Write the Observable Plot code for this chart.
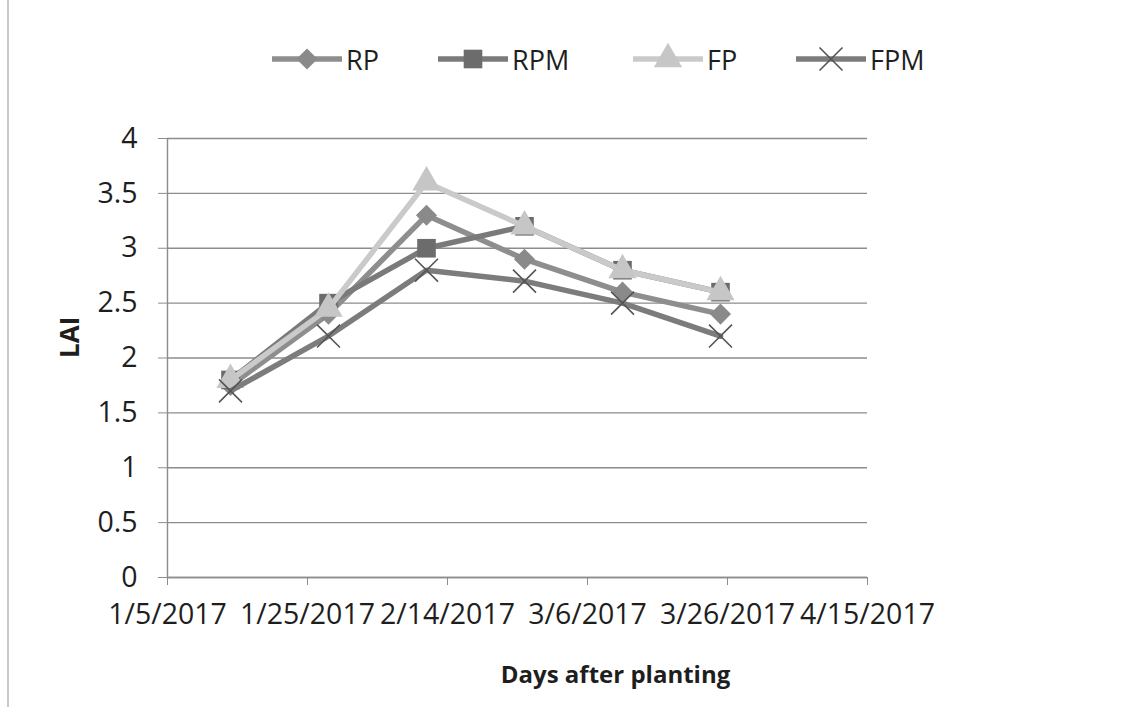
<!DOCTYPE html>
<html><head><meta charset="utf-8">
<script src="https://cdn.jsdelivr.net/npm/d3@7"></script>
<script src="https://cdn.jsdelivr.net/npm/@observablehq/plot@0.6"></script>
<style>
body{margin:0;background:#fff;font-family:"Open Sans",sans-serif;}
#wrap{position:relative;width:1138px;height:707px;overflow:hidden;background:#fff;}
#legend{position:absolute;top:0;left:0;width:1138px;height:100px;}
#chart{position:absolute;top:100px;left:0;}
#edge{position:absolute;left:7px;top:0;width:2px;height:707px;background:#c8c8c8;}
.item{position:absolute;top:41px;height:36px;display:flex;align-items:center;font-size:27px;color:#1e1e1e;}
.item svg{margin-right:4px;}
</style></head><body>
<div id="wrap"><div id="edge"></div><div id="legend"></div><div id="chart"></div></div>
<script>
// ---- data ----
const dates = ["2017-01-14","2017-01-28","2017-02-11","2017-02-25","2017-03-11","2017-03-25"];
const seriesNames = ["RP","RPM","FP","FPM"];
const RP  = [1.75, 2.4, 3.3, 2.9, 2.6, 2.4];
const RPM = [1.8, 2.5, 3.0, 3.2, 2.8, 2.6];
const FP  = [1.8, 2.45, 3.6, 3.2, 2.8, 2.6];
const FPM = [1.7, 2.2, 2.8, 2.7, 2.5, 2.2];
const xTickDates = ["2017-01-05","2017-01-25","2017-02-14","2017-03-06","2017-03-26","2017-04-15"];
const yTicks = [0, 0.5, 1, 1.5, 2, 2.5, 3, 3.5, 4];
const xTitle = "Days after planting";
const yTitle = "LAI";

// ---- styles ----
const styles = {
  RP:  {line:"#8e8e8e", mark:"#8a8a8a", symbol:"diamond2", r:9.5, stroke:false},
  RPM: {line:"#7a7a7a", mark:"#6c6c6c", symbol:"square", r:10.5, stroke:false},
  FP:  {line:"#cacaca", mark:"#c6c6c6", symbol:"triangle", r:10.5, stroke:false},
  FPM: {line:"#7c7c7c", mark:"#555555", symbol:"times", r:10.5, stroke:true}
};
const values = {RP, RPM, FP, FPM};
const parse = s => new Date(s + "T00:00:00Z");
const table = seriesNames.flatMap(s => dates.map((d, i) => ({series: s, date: parse(d), value: values[s][i]})));

const marks = [
  Plot.gridY(yTicks, {stroke:"#8c8c8c", strokeOpacity:1, strokeWidth:1.4}),
  Plot.axisY(yTicks, {tickSize:9, tickPadding:21, stroke:"#8c8c8c", color:"#1e1e1e", tickFormat:d=>String(d), label:null}),
  Plot.ruleX([parse(xTickDates[0])], {stroke:"#8c8c8c", strokeWidth:1.4}),
  Plot.ruleY([0], {stroke:"#8c8c8c", strokeWidth:1.4}),
  Plot.axisX(xTickDates.map(parse), {tickSize:8, tickPadding:18, stroke:"#8c8c8c", color:"#1e1e1e",
    tickFormat: d => `${d.getUTCMonth()+1}/${d.getUTCDate()}/${d.getUTCFullYear()}`, label:null}),
];
for (const s of seriesNames) {
  const st = styles[s];
  const data = table.filter(d => d.series === s);
  marks.push(Plot.line(data, {x:"date", y:"value", stroke:st.line, strokeWidth:5.5, curve:"linear"}));
  if (st.stroke) marks.push(Plot.dot(data, {x:"date", y:"value", symbol:st.symbol, r:st.r, stroke:st.mark, strokeWidth:1.6}));
  else marks.push(Plot.dot(data, {x:"date", y:"value", symbol:st.symbol, r:st.r, fill:st.mark, stroke:null}));
}
marks.push(Plot.text([yTitle], {frameAnchor:"left", dx:-97, rotate:-90, fontWeight:"bold", fontSize:26, fill:"#1e1e1e"}));
marks.push(Plot.text([xTitle], {frameAnchor:"bottom", dx:98, dy:105, fontWeight:"bold", fontSize:24, fill:"#1e1e1e"}));

const chart = Plot.plot({
  width:1138, height:607,
  marginLeft:167, marginRight:271, marginTop:38, marginBottom:130,
  style:{fontFamily:"'Open Sans', sans-serif", fontSize:"28.5px", color:"#1e1e1e", background:"transparent", overflow:"visible"},
  x:{type:"utc", domain:[parse(xTickDates[0]), parse(xTickDates[xTickDates.length-1])]},
  y:{domain:[0,4]},
  marks
});
document.getElementById("chart").appendChild(chart);

// ---- legend ----
const legendPos = {RP:272, RPM:438, FP:633, FPM:796};
const leg = document.getElementById("legend");
for (const s of seriesNames) {
  const st = styles[s];
  const div = document.createElement("div");
  div.className = "item";
  div.style.left = legendPos[s] + "px";
  const svg = d3.create("svg").attr("width", 70).attr("height", 36);
  svg.append("line").attr("x1",0).attr("x2",70).attr("y1",18).attr("y2",18).attr("stroke",st.line).attr("stroke-width",5.5);
  const sym = d3.symbol(s === "RP" ? d3.symbolDiamond2 : s === "RPM" ? d3.symbolSquare : s === "FP" ? d3.symbolTriangle : d3.symbolTimes, Math.PI*st.r*st.r);
  const p = svg.append("path").attr("d", sym()).attr("transform","translate(35,18)");
  if (st.stroke) p.attr("fill","none").attr("stroke",st.mark).attr("stroke-width",1.6);
  else p.attr("fill",st.mark);
  div.appendChild(svg.node());
  const t = document.createElement("span");
  t.textContent = s;
  div.appendChild(t);
  leg.appendChild(div);
}
</script>
</body></html>
